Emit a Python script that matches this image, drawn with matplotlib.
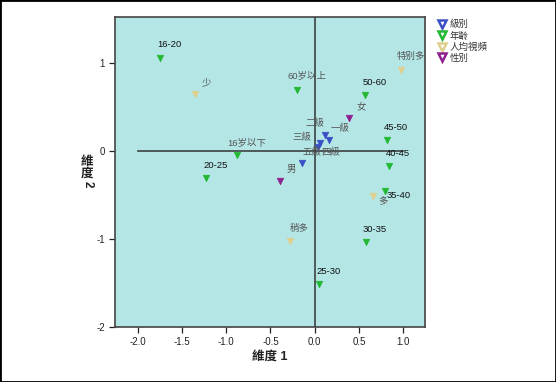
import matplotlib
matplotlib.use("Agg")
import matplotlib.pyplot as plt
from matplotlib.lines import Line2D
from matplotlib.patches import Rectangle

plt.rcParams['font.family'] = ['Liberation Sans', 'Noto Sans CJK TC', 'DejaVu Sans']

# ---- data ----
groups = ["級別", "年齡", "人均視頻", "性別"]
group_colors = ["#3a4fc4", "#22b832", "#e0cf8c", "#8e1f8e"]

level_labels = ["一級", "二級", "三級", "四級", "五級"]
level_x = [0.162, 0.116, 0.060, 0.041, -0.140]
level_y = [0.117, 0.180, 0.094, 0.041, -0.138]

age_labels = ["16岁以下", "16-20", "20-25", "25-30", "30-35", "35-40",
              "40-45", "45-50", "50-60", "60岁以上"]
age_x = [-0.881, -1.750, -1.228, 0.049, 0.576, 0.798, 0.836, 0.813, 0.570, -0.197]
age_y = [-0.050, 1.056, -0.310, -1.513, -1.034, -0.453, -0.176, 0.124, 0.630, 0.694]

video_labels = ["少", "稍多", "多", "特别多"]
video_x = [-1.356, -0.283, 0.655, 0.972]
video_y = [0.642, -1.027, -0.514, 0.920]

sex_labels = ["男", "女"]
sex_x = [-0.392, 0.388]
sex_y = [-0.347, 0.368]

x_ticks = [-2.0, -1.5, -1.0, -0.5, 0.0, 0.5, 1.0]
y_ticks = [-2, -1, 0, 1]

# label offsets in points (styling)
label_offsets = {
    "一級": (1, 5), "二級": (-14, 5), "三級": (-20, 0), "四級": (2, -7),
    "五級": (0, 4),
    "16岁以下": (-7, 5), "16-20": (-2, 6), "20-25": (-2, 6), "25-30": (-2, 6),
    "30-35": (-2, 6), "35-40": (1, -7), "40-45": (-2, 6), "45-50": (-2, 6),
    "50-60": (-2, 6), "60岁以上": (-7, 6),
    "少": (5, 5), "稍多": (0, 6), "多": (4, -7), "特别多": (-3, 6),
    "男": (5, 5), "女": (5, 5),
}

fig = plt.figure(figsize=(5.56, 3.82), dpi=100)
fig.patches.append(Rectangle((0, 0), 1, 1, transform=fig.transFigure,
                             fill=False, edgecolor="black", linewidth=2))
ax = fig.add_axes([0.2077, 0.1440, 0.5567, 0.8107])
ax.set_facecolor("#b4e6e6")
ax.set_xlim(-2.25, 1.245)
ax.set_ylim(-2.0, 1.515)

ax.plot([-2.0, 1.0], [0, 0], color="#333333", lw=1.1, zorder=1)
ax.axvline(0, color="#333333", lw=1.1, zorder=1)

series = [
    (level_labels, level_x, level_y),
    (age_labels, age_x, age_y),
    (video_labels, video_x, video_y),
    (sex_labels, sex_x, sex_y),
]

for (labs, xs, ys), col in zip(series, group_colors):
    ax.scatter(xs, ys, marker="v", s=22, color=col, edgecolors=col,
               linewidths=0.5, zorder=3)
    for lab, x, y in zip(labs, xs, ys):
        is_num = all(ord(c) < 128 for c in lab)
        ax.annotate(lab, (x, y), xytext=label_offsets.get(lab, (0, 5)),
                    textcoords="offset points", fontsize=6.8,
                    color="#111111" if is_num else "#555555",
                    ha="left", va="bottom", zorder=4)

ax.set_xticks(x_ticks)
ax.set_xticklabels([f"{v:.1f}" for v in x_ticks])
ax.set_yticks(y_ticks)
ax.set_yticklabels([str(v) for v in y_ticks])
ax.tick_params(axis="both", direction="out", length=4, width=0.9,
               labelsize=7, colors="#222222")
for s in ax.spines.values():
    s.set_color("#444444")
    s.set_linewidth(1.2)

fig.text(0.486, 0.066, "維度 1", ha="center", va="center", fontsize=9,
         fontweight="bold", color="#222222")
fig.text(0.157, 0.577, "維", ha="center", va="center", fontsize=9,
         fontweight="bold", color="#222222")
fig.text(0.157, 0.546, "度", ha="center", va="center", fontsize=9,
         fontweight="bold", color="#222222")
fig.text(0.157, 0.517, "2", ha="center", va="center", fontsize=8.5,
         fontweight="bold", rotation=-90, color="#222222")

handles = [Line2D([], [], marker="v", linestyle="none", markersize=5.5,
                  markerfacecolor="white", markeredgecolor=c,
                  markeredgewidth=1.8) for c in group_colors]
leg = fig.legend(handles, groups, loc="upper left",
                 bbox_to_anchor=(0.782, 0.958), frameon=False,
                 fontsize=6.8, handlelength=0.8, handletextpad=0.4,
                 labelspacing=0.2, borderaxespad=0)
for t in leg.get_texts():
    t.set_color("#333333")

fig.savefig("out.png", dpi=100)
